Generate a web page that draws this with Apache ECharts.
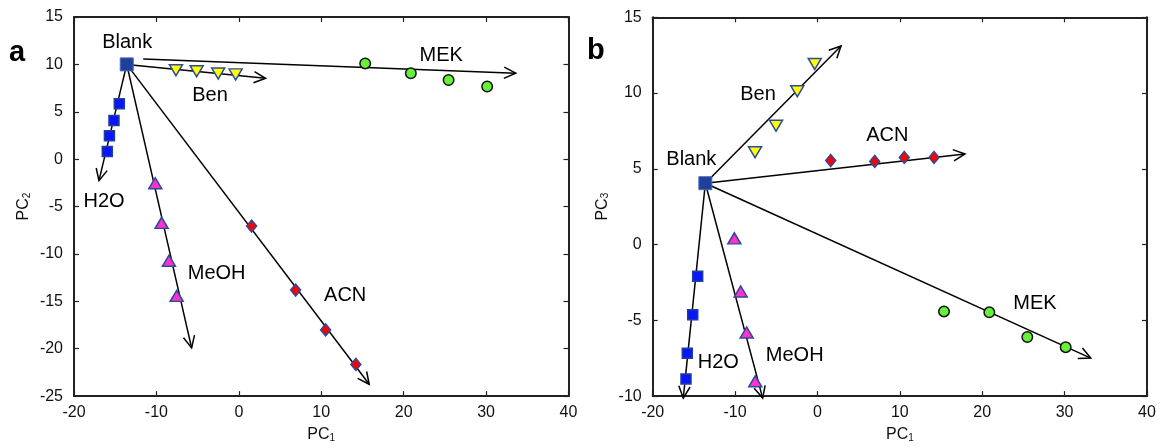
<!DOCTYPE html>
<html><head><meta charset="utf-8">
<script src="https://cdn.jsdelivr.net/npm/echarts/dist/echarts.min.js"></script>
<style>html,body{margin:0;padding:0;background:#fff}#c{width:1161px;height:448px}</style>
</head><body><div id="c"></div><script>
// ---------- Panel a : PC1 vs PC2 ----------
const blankA = [[-13.6, 10.0]];
const h2oA  = [[-14.5, 5.85], [-15.15, 4.07], [-15.7, 2.46], [-15.96, 0.82]];
const benA  = [[-7.63, 9.38], [-5.12, 9.28], [-2.5, 9.04], [-0.39, 8.94]];
const mekA  = [[15.33, 10.1], [20.87, 9.07], [25.45, 8.35], [30.13, 7.67]];
const meohA = [[-10.14, -2.54], [-9.37, -6.72], [-8.48, -10.72], [-7.54, -14.43]];
const acnA  = [[1.55, -7.06], [6.89, -13.81], [10.53, -18.02], [14.2, -21.66]];
// arrows: [x0, y0, x1, y1]
const arrowsA = [
  [-13.6, 10.0, -16.97, -2.27],   // H2O
  [-13.6, 10.0, 3.25, 8.53],      // Ben
  [-11.6, 10.58, 33.6, 9.07],     // MEK
  [-13.6, 10.0, -5.73, -19.91],   // MeOH
  [-13.6, 10.0, 15.82, -23.75]    // ACN
];
const labelsA = [
  [-13.55, 12.36, 'Blank'], [-3.5, 6.7, 'Ben'], [24.55, 10.92, 'MEK'],
  [-16.36, -4.5, 'H2O'], [-2.69, -12.1, 'MeOH'], [12.9, -14.43, 'ACN']
];
// ---------- Panel b : PC1 vs PC3 ----------
const blankB = [[-13.61, 4.05]];
const h2oB  = [[-14.54, -2.09], [-15.14, -4.63], [-15.8, -7.17], [-15.96, -8.87]];
const benB  = [[-7.58, 6.09], [-5.03, 7.84], [-2.45, 10.12], [-0.33, 11.92]];
const mekB  = [[15.36, -4.41], [20.86, -4.47], [25.47, -6.1], [30.13, -6.77]];
const meohB = [[-10.09, 0.41], [-9.32, -3.1], [-8.59, -5.8], [-7.55, -9.02]];
const acnB  = [[1.61, 5.55], [6.95, 5.49], [10.54, 5.75], [14.15, 5.75]];
const arrowsB = [
  [-13.61, 4.05, 2.86, 13.11],    // Ben
  [-13.61, 4.05, 17.91, 5.98],    // ACN
  [-13.61, 4.05, 33.17, -7.49],   // MEK
  [-13.61, 4.05, -16.29, -10.13], // H2O
  [-13.61, 4.05, -6.65, -10.13]   // MeOH
];
const labelsB = [
  [-15.31, 5.62, 'Blank'], [-7.22, 9.9, 'Ben'], [8.48, 7.22, 'ACN'],
  [26.41, -3.92, 'MEK'], [-12.04, -7.78, 'H2O'], [-2.76, -7.3, 'MeOH']
];
// axis ranges
const xRange = [-20, 40, 10];
const yRangeA = [-25, 15, 5];
const yRangeB = [-10, 15, 5];

const FONT = '"Liberation Sans", Arial, sans-serif';
const chart = echarts.init(document.getElementById('c'), null, {renderer: 'canvas'});

function arrowItem(params, api) {
  const p0 = api.coord([api.value(0), api.value(1)]);
  const p1 = api.coord([api.value(2), api.value(3)]);
  const ang = Math.atan2(p1[1] - p0[1], p1[0] - p0[0]);
  const L = 13, A = 0.45;
  const h1 = [p1[0] - L * Math.cos(ang - A), p1[1] - L * Math.sin(ang - A)];
  const h2 = [p1[0] - L * Math.cos(ang + A), p1[1] - L * Math.sin(ang + A)];
  return {type: 'group', children: [
    {type: 'line', shape: {x1: p0[0], y1: p0[1], x2: p1[0], y2: p1[1]}, style: {stroke: '#000', lineWidth: 1.5}},
    {type: 'polyline', shape: {points: [h1, p1, h2]}, style: {stroke: '#000', lineWidth: 1.5, fill: null}}
  ]};
}

const nameRich = {
  m: {fontSize: 16, lineHeight: 16, verticalAlign: 'top', fontFamily: FONT, color: '#111'},
  s: {fontSize: 10, lineHeight: 10, padding: [8, 0, 0, 0], verticalAlign: 'bottom', fontFamily: FONT, color: '#111'}
};
const lineStyle = {color: '#222', width: 2};
function xAx(gi, pos, named) {
  return {
    type: 'value', gridIndex: gi, position: pos, min: xRange[0], max: xRange[1], interval: xRange[2],
    axisLine: {show: true, onZero: false, lineStyle}, splitLine: {show: false},
    axisTick: {show: true, inside: true, length: 5, lineStyle: {color: '#222', width: 1.2}},
    axisLabel: {show: named, fontSize: 16, color: '#111', fontFamily: FONT, margin: 8},
    name: named ? '{m|PC}{s|1}' : '', nameLocation: 'middle', nameGap: 28,
    nameTextStyle: {rich: nameRich}
  };
}
function yAx(gi, pos, rng, named, sub) {
  return {
    type: 'value', gridIndex: gi, position: pos, min: rng[0], max: rng[1], interval: rng[2],
    axisLine: {show: true, onZero: false, lineStyle}, splitLine: {show: false},
    axisTick: {show: true, inside: true, length: 5, lineStyle: {color: '#222', width: 1.2}},
    axisLabel: {show: named, fontSize: 16, color: '#111', fontFamily: FONT, margin: 11},
    name: named ? '{m|PC}{s|' + sub + '}' : '', nameLocation: 'middle', nameGap: 42, nameRotate: 90,
    nameTextStyle: {rich: nameRich}
  };
}
function pts(data, xi, yi, symbol, size, fill, border, bw, z) {
  return {type: 'scatter', xAxisIndex: xi, yAxisIndex: yi, data, symbol, symbolSize: size, z: z || 5,
    itemStyle: {color: fill, borderColor: border, borderWidth: bw, opacity: 1}, silent: true, clip: false};
}
function labels(data, xi, yi) {
  return {type: 'scatter', xAxisIndex: xi, yAxisIndex: yi, data, symbolSize: 0, z: 8, silent: true,
    itemStyle: {opacity: 1},
    label: {show: true, position: 'inside', formatter: p => p.data[2], fontSize: 20, color: '#000', fontFamily: FONT}};
}
function arrows(data, xi, yi) {
  return {type: 'custom', xAxisIndex: xi, yAxisIndex: yi, data, renderItem: arrowItem, clip: false, z: 2,
    encode: {x: [0, 2], y: [1, 3]}, silent: true};
}
const BORDER = '#2b4a9c';
function panel(xi, yi, blank, h2o, ben, mek, meoh, acn, arr, lab) {
  return [
    arrows(arr, xi, yi),
    pts(h2o, xi, yi, 'rect', 10, '#0a14ff', '#1f3f99', 1.5),
    pts(ben, xi, yi, 'path://M0,0 L2,0 L1,1.6 Z', [13, 11], '#ffff00', BORDER, 1.5),
    pts(mek, xi, yi, 'circle', 10.5, '#66f03a', '#111', 1.5),
    pts(meoh, xi, yi, 'triangle', [13, 11], '#ff33cc', BORDER, 1.5),
    pts(acn, xi, yi, 'diamond', [10, 12], '#ff0000', BORDER, 1.5),
    pts(blank, xi, yi, 'rect', 13, '#1f3f99', '#4d6ab5', 1, 6),
    labels(lab, xi, yi)
  ];
}

chart.setOption({
  animation: false,
  backgroundColor: '#fff',
  textStyle: {fontFamily: FONT},
  grid: [
    {left: 74, top: 17, width: 494.5, height: 389.3},
    {left: 652.7, top: 17.3, width: 494.3, height: 389}
  ],
  xAxis: [xAx(0, 'bottom', true), xAx(0, 'top', false), xAx(1, 'bottom', true), xAx(1, 'top', false)],
  yAxis: [yAx(0, 'left', yRangeA, true, '2'), yAx(0, 'right', yRangeA, false), yAx(1, 'left', yRangeB, true, '3'), yAx(1, 'right', yRangeB, false)],
  graphic: [
    {type: 'text', left: 9, top: 38, style: {text: 'a', font: 'bold 29px ' + FONT, fill: '#000'}},
    {type: 'text', left: 587, top: 36, style: {text: 'b', font: 'bold 29px ' + FONT, fill: '#000'}}
  ],
  series: [].concat(
    panel(0, 0, blankA, h2oA, benA, mekA, meohA, acnA, arrowsA, labelsA),
    panel(2, 2, blankB, h2oB, benB, mekB, meohB, acnB, arrowsB, labelsB)
  )
});
</script></body></html>
